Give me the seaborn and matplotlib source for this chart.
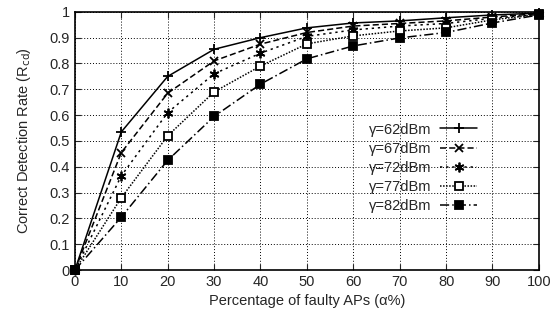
import numpy as np
import pandas as pd
from matplotlib import pyplot as plt
import seaborn as sns

alpha = [0, 10, 20, 30, 40, 50, 60, 70, 80, 90, 100]
r62 = [0, 0.535, 0.75, 0.855, 0.90, 0.938, 0.957, 0.965, 0.977, 0.988, 0.995]
r67 = [0, 0.455, 0.685, 0.81, 0.875, 0.92, 0.945, 0.955, 0.965, 0.98, 0.993]
r72 = [0, 0.365, 0.61, 0.76, 0.84, 0.905, 0.93, 0.945, 0.955, 0.975, 0.99]
r77 = [0, 0.28, 0.52, 0.69, 0.79, 0.876, 0.907, 0.926, 0.938, 0.969, 0.99]
r82 = [0, 0.205, 0.425, 0.595, 0.72, 0.818, 0.868, 0.899, 0.92, 0.957, 0.988]
labels = ['γ=62dBm', 'γ=67dBm', 'γ=72dBm', 'γ=77dBm', 'γ=82dBm']

sns.set_style('ticks')
plt.rcParams['font.family'] = ['Liberation Sans', 'DejaVu Sans']
plt.rcParams['font.size'] = 10.5

fig = plt.figure(figsize=(5.59, 3.2), dpi=100)
ax = fig.add_axes([0.134, 0.156, 0.830, 0.807])

# line style, marker, marker size, face colour for each series
styles = [
    ('-', '+', 7, 'black'),
    ((0, (4, 2)), 'x', 6, 'black'),
    ((0, (1.5, 2.5)), (6, 2, 0), 7, 'black'),
    ((0, (1, 1)), 's', 5.5, 'white'),
    ((0, (6, 2, 1, 2)), 's', 5.5, 'black'),
]
for lab, vals, (ls, mk, ms, fc) in zip(labels, [r62, r67, r72, r77, r82], styles):
    d = pd.DataFrame({'alpha': alpha, 'rate': vals})
    sns.lineplot(data=d, x='alpha', y='rate', color='black', linestyle=ls,
                 marker=mk, markersize=ms, markerfacecolor=fc,
                 markeredgecolor='black', markeredgewidth=1.3,
                 linewidth=1.1, ax=ax, label=lab, clip_on=False)

ax.set_xlim(0, 100)
ax.set_ylim(0, 1)
ax.set_xticks(range(0, 101, 10))
ax.set_yticks(np.arange(0, 1.01, 0.1))
ax.set_yticklabels(['0', '0.1', '0.2', '0.3', '0.4', '0.5', '0.6', '0.7', '0.8', '0.9', '1'])
ax.grid(True, color='black', linestyle=(0, (1, 2)), linewidth=0.7)
ax.tick_params(direction='in', top=True, right=True, length=4, labelsize=10.5)
for s in ax.spines.values():
    s.set_linewidth(1.2)
    s.set_color('black')
ax.set_xlabel('Percentage of faulty APs (α%)', fontsize=10.5, labelpad=4)
ax.set_ylabel('Correct Detection Rate (R$_{\\mathrm{cd}}$)', fontsize=10.5, labelpad=12)

ax.legend(loc='upper right', bbox_to_anchor=(0.885, 0.605),
          frameon=False, markerfirst=False, handlelength=2.5,
          handletextpad=0.6, labelspacing=0.35, fontsize=10.5, borderpad=0.1)

fig.savefig('out.png', dpi=100)
